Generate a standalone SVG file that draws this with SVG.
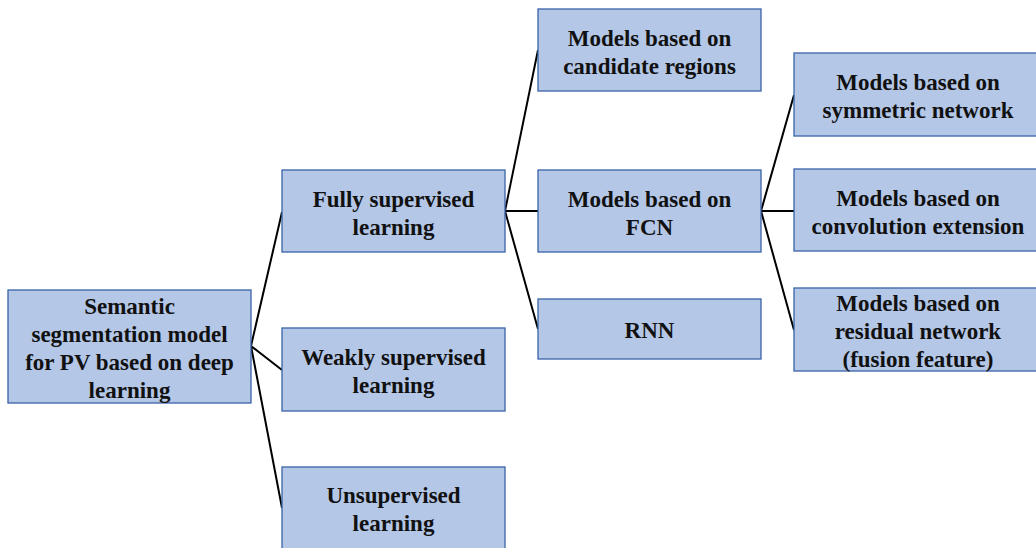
<svg xmlns="http://www.w3.org/2000/svg" width="1036" height="548" viewBox="0 0 1036 548">
<style>
.box{fill:#b4c7e7;stroke:#3a63a8;stroke-width:1.3}
.t{font-family:"Liberation Serif","Times New Roman",serif;font-weight:bold;font-size:23px;fill:#111;text-anchor:middle}
.c{stroke:#000;stroke-width:2;fill:none}
</style>
<rect width="1036" height="548" fill="#fff"/>
<g id="connectors">
<path class="c" d="M251,346 L282,212 M251,346 L282,370 M251,346 L282,508"/>
<path class="c" d="M505,211 L538,50 M505,211 L538,211 M505,211 L538,329"/>
<path class="c" d="M761,211 L794,95 M761,211 L794,211 M761,211 L794,330"/>
</g>
<g id="root"><rect class="box" x="8" y="290" width="243" height="113"/>
<text class="t" x="129.5" y="314">Semantic</text><text class="t" x="129.5" y="342">segmentation model</text><text class="t" x="129.5" y="370">for PV based on deep</text><text class="t" x="129.5" y="398">learning</text></g>
<g id="fully"><rect class="box" x="282" y="170" width="223" height="82"/>
<text class="t" x="393.5" y="207">Fully supervised</text><text class="t" x="393.5" y="235">learning</text></g>
<g id="weakly"><rect class="box" x="282" y="328" width="223" height="83"/>
<text class="t" x="393.5" y="365">Weakly supervised</text><text class="t" x="393.5" y="393">learning</text></g>
<g id="unsupervised"><rect class="box" x="282" y="467" width="223" height="82"/>
<text class="t" x="393.5" y="503">Unsupervised</text><text class="t" x="393.5" y="531">learning</text></g>
<g id="candidate"><rect class="box" x="538" y="9" width="223" height="82"/>
<text class="t" x="649.5" y="46">Models based on</text><text class="t" x="649.5" y="74">candidate regions</text></g>
<g id="fcn"><rect class="box" x="538" y="170" width="223" height="82"/>
<text class="t" x="649.5" y="207">Models based on</text><text class="t" x="649.5" y="235">FCN</text></g>
<g id="rnn"><rect class="box" x="538" y="299" width="223" height="60"/>
<text class="t" x="649.5" y="338">RNN</text></g>
<g id="symmetric"><rect class="box" x="794" y="53" width="245" height="83"/>
<text class="t" x="918" y="90">Models based on</text><text class="t" x="918" y="118">symmetric network</text></g>
<g id="convolution"><rect class="box" x="794" y="169" width="245" height="82"/>
<text class="t" x="918" y="206">Models based on</text><text class="t" x="918" y="234">convolution extension</text></g>
<g id="residual"><rect class="box" x="794" y="288" width="245" height="83"/>
<text class="t" x="918" y="311">Models based on</text><text class="t" x="918" y="339">residual network</text><text class="t" x="918" y="367">(fusion feature)</text></g>
</svg>
